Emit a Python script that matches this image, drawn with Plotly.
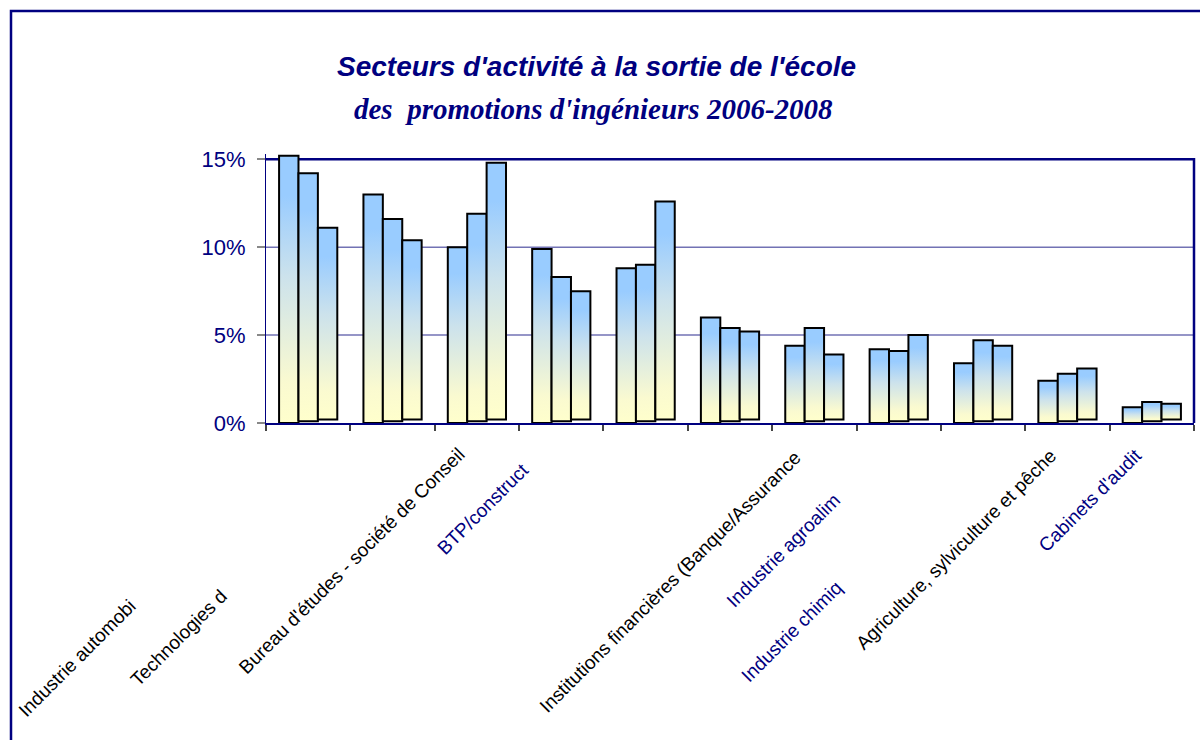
import plotly.graph_objects as go

W, H = 1200, 740
ML, MR, MT, MB = 266, 6, 154, 317

# parts par secteur (%), promotions 2006 / 2007 / 2008
promo_2006 = [15.2, 13.0, 10.0, 9.9, 8.8, 6.0, 4.4, 4.2, 3.4, 2.4, 0.9]
promo_2007 = [14.1, 11.5, 11.8, 8.2, 8.9, 5.3, 5.3, 4.0, 4.6, 2.7, 1.1]
promo_2008 = [10.9, 10.2, 14.6, 7.3, 12.4, 5.0, 3.7, 4.8, 4.2, 2.9, 0.9]
series = [promo_2006, promo_2007, promo_2008]

# libellés tels qu'ils apparaissent (tronqués) sous l'axe
sector_labels = [
    "Industrie automobi",
    "Technologies d",
    "Bureau d'études - société de Conseil",
    "BTP/construct",
    "Institutions financières (Banque/Assurance",
    "Industrie agroalim",
    "Industrie chimiq",
    "Agriculture, sylviculture et pêche",
    "Cabinets d'audit",
]

y_ticks = [0, 5, 10, 15]
y_ticktext = ["0%", "5%", "10%", "15%"]

NAVY = "#000080"
FONT = "Liberation Sans"

# style / geometry
label_colors = ["black", "black", "black", NAVY, "black", NAVY, NAVY, "black", NAVY]
label_end_px = [(142, 593), (234, 582), (472, 441), (536, 456), (808, 444),
                (847, 487), (849, 574), (1063, 442), (1148, 442)]
bar_w = 0.23
bar_offsets = [-0.345, -0.115, 0.115]
depth_shift = [0.0, 0.1, 0.2]   # small 3D offset of the back series
gradient = [[0, "#FFFFCC"], [0.15, "#FAFAD0"], [0.55, "#CCE2EC"],
            [0.85, "#99CCFF"], [1, "#99CCFF"]]


def paper_x(px):
    return (px - ML) / (W - ML - MR)


def paper_y(py):
    return (H - MB - py) / (H - MT - MB)


fig = go.Figure()

n_cat = len(promo_2006)
for i in range(n_cat):
    for s, vals in enumerate(series):
        x0 = i + bar_offsets[s]
        x1 = x0 + bar_w
        b = depth_shift[s]
        t = b + vals[i]
        fig.add_trace(go.Scatter(
            x=[x0, x0, x1, x1, x0],
            y=[b, t, t, b, b],
            mode="lines",
            fill="toself",
            fillgradient=dict(type="vertical", colorscale=gradient, start=b, stop=t),
            line=dict(color="black", width=2),
            showlegend=False,
            hoverinfo="skip",
        ))

# gridlines, top frame and right frame
for g in [5, 10]:
    fig.add_shape(type="line", xref="x", yref="y", x0=-0.5, x1=n_cat - 0.5,
                  y0=g, y1=g, line=dict(color="#7272B4", width=1.5), layer="below")
fig.add_shape(type="line", xref="x", yref="y", x0=-0.5, x1=n_cat - 0.5,
              y0=15, y1=15, line=dict(color=NAVY, width=2.5), layer="below")
fig.add_shape(type="line", xref="paper", yref="paper", x0=1, x1=1,
              y0=0, y1=paper_y(158), line=dict(color=NAVY, width=2.5))

# outer chart border
fig.add_shape(type="rect", xref="paper", yref="paper",
              x0=paper_x(11), x1=paper_x(1215), y0=paper_y(755), y1=paper_y(11),
              line=dict(color=NAVY, width=2.5))

# titles
fig.add_annotation(text="<b><i>Secteurs d'activité à la sortie de l'école</i></b>",
                   xref="paper", yref="paper", x=paper_x(596), y=paper_y(67),
                   xanchor="center", yanchor="middle", showarrow=False,
                   font=dict(family=FONT, size=28, color=NAVY))
fig.add_annotation(text="<b><i>des  promotions d'ingénieurs 2006-2008</i></b>",
                   xref="paper", yref="paper", x=paper_x(593), y=paper_y(109),
                   xanchor="center", yanchor="middle", showarrow=False,
                   font=dict(family="Liberation Serif", size=29, color=NAVY))

# rotated category labels
for lab, col, (ex, ey) in zip(sector_labels, label_colors, label_end_px):
    fig.add_annotation(text=lab, xref="paper", yref="paper",
                       x=paper_x(ex), y=paper_y(ey),
                       xanchor="right", yanchor="top", textangle=-45,
                       showarrow=False,
                       font=dict(family=FONT, size=19, color=col))

fig.update_layout(
    width=W, height=H,
    margin=dict(l=ML, r=MR, t=MT, b=MB),
    paper_bgcolor="white",
    plot_bgcolor="white",
    showlegend=False,
    xaxis=dict(
        range=[-0.5, n_cat - 0.5],
        tickvals=[k - 0.5 for k in range(n_cat + 1)],
        showticklabels=False,
        ticks="outside", ticklen=6, tickcolor="#444444", tickwidth=1.5,
        showgrid=False, zeroline=False,
        showline=True, linecolor=NAVY, linewidth=2,
    ),
    yaxis=dict(
        range=[0, 15.3],
        tickvals=y_ticks, ticktext=y_ticktext,
        ticks="outside", ticklen=8, tickcolor="#888888", tickwidth=1.5,
        tickfont=dict(family=FONT, size=22, color=NAVY),
        ticklabelstandoff=7,
        showgrid=False, zeroline=False,
        showline=True, linecolor=NAVY, linewidth=1,
    ),
)

# drop the default body margin so the 1200x740 figure fills the window
fig.write_html("out.html",
               config={"displayModeBar": False},
               post_script="document.body.style.margin='0';"
                           "document.body.style.overflow='hidden';")
